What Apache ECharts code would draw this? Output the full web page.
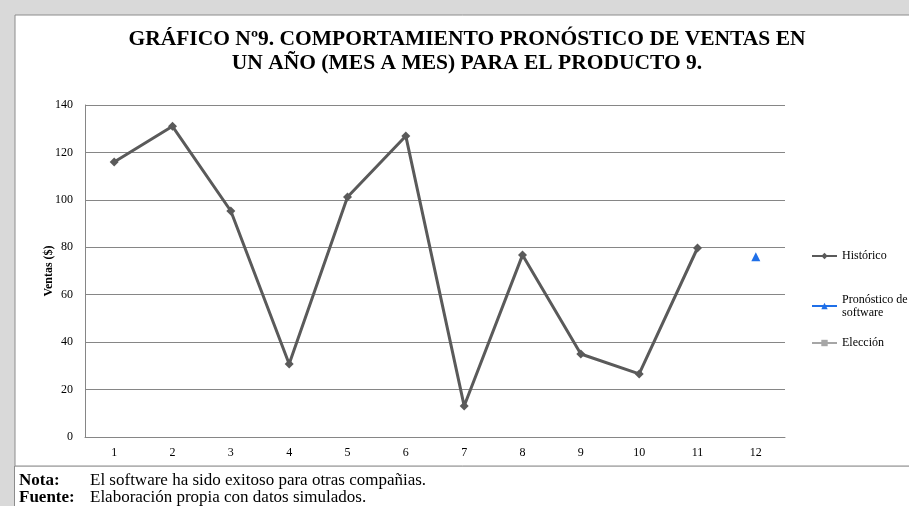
<!DOCTYPE html>
<html>
<head>
<meta charset="utf-8">
<script src="https://cdn.jsdelivr.net/npm/echarts@6/dist/echarts.min.js"></script>
<style>
  html, body { margin: 0; padding: 0; background: #ffffff; }
  #chart { width: 909px; height: 506px; }
</style>
</head>
<body>
<div id="chart"></div>
<script>
// Months of the year
var months = ['1', '2', '3', '4', '5', '6', '7', '8', '9', '10', '11', '12'];
// Historical monthly sales (months 1-11)
var historico = [116, 131, 95.3, 30.8, 101.2, 126.9, 13.1, 76.7, 35, 26.6, 79.7, null];
// Software forecast for month 12
var pronostico = [null, null, null, null, null, null, null, null, null, null, null, 76];
// Chosen value (no data yet)
var eleccion = [null, null, null, null, null, null, null, null, null, null, null, null];
// Value axis ticks
var yMin = 0, yMax = 140, yStep = 20;

var serif = '"Liberation Serif", "Times New Roman", serif';

var chart = echarts.init(document.getElementById('chart'));

var option = {
  animation: false,
  backgroundColor: '#d9d9d9',
  textStyle: { fontFamily: serif },
  graphic: [
    { type: 'rect', z: -10, silent: true,
      shape: { x: 15, y: 15, width: 900, height: 451 },
      style: { fill: '#ffffff', stroke: '#8c8c8c', lineWidth: 1 } },
    { type: 'rect', z: -10, silent: true,
      shape: { x: 15, y: 467, width: 900, height: 40 },
      style: { fill: '#ffffff' } },
    { type: 'line', z: -9, silent: true,
      shape: { x1: 14.5, y1: 466, x2: 14.5, y2: 506 },
      style: { stroke: '#8c8c8c', lineWidth: 1 } },
    { type: 'text', left: 19, top: 472,
      style: { text: 'Nota:', font: 'bold 17px ' + serif, fill: '#000' } },
    { type: 'text', left: 90, top: 472,
      style: { text: 'El software ha sido exitoso para otras compañias.', font: '17px ' + serif, fill: '#000' } },
    { type: 'text', left: 19, top: 489,
      style: { text: 'Fuente:', font: 'bold 17px ' + serif, fill: '#000' } },
    { type: 'text', left: 90, top: 489,
      style: { text: 'Elaboración propia con datos simulados.', font: '17px ' + serif, fill: '#000' } }
  ],
  title: {
    text: 'GRÁFICO Nº9. COMPORTAMIENTO PRONÓSTICO DE VENTAS EN\nUN AÑO (MES A MES) PARA EL PRODUCTO 9.',
    left: 462,
    top: 22,
    textAlign: 'center',
    textStyle: {
      fontFamily: serif,
      fontWeight: 'bold',
      fontSize: 21.5,
      lineHeight: 24,
      color: '#000'
    }
  },
  legend: [
    { data: ['Histórico'], orient: 'vertical', left: 806, top: 245,
      itemWidth: 25, itemHeight: 8,
      textStyle: { fontFamily: serif, fontSize: 12, color: '#000' } },
    { data: ['Pronóstico de software'], orient: 'vertical', left: 806, top: 288,
      itemWidth: 25, itemHeight: 8,
      formatter: function () { return 'Pronóstico de\nsoftware'; },
      textStyle: { fontFamily: serif, fontSize: 12, color: '#000', lineHeight: 13 } },
    { data: ['Elección'], orient: 'vertical', left: 806, top: 332,
      itemWidth: 25, itemHeight: 8,
      textStyle: { fontFamily: serif, fontSize: 12, color: '#000' } }
  ],
  grid: { left: 85, right: 124, top: 105, bottom: 69 },
  xAxis: {
    type: 'category',
    data: months,
    boundaryGap: true,
    axisLine: { show: true, lineStyle: { color: '#868686', width: 1 } },
    axisTick: { show: false },
    axisLabel: { fontFamily: serif, fontSize: 12, color: '#000', margin: 10 }
  },
  yAxis: {
    type: 'value',
    min: yMin, max: yMax, interval: yStep,
    name: 'Ventas ($)',
    nameLocation: 'middle',
    nameGap: 30,
    nameMoveOverlap: false,
    nameTextStyle: { fontFamily: serif, fontSize: 12, fontWeight: 'bold', color: '#000' },
    axisLine: { show: true, lineStyle: { color: '#868686', width: 1 } },
    axisTick: { show: false },
    splitLine: { lineStyle: { color: '#868686', width: 1 } },
    axisLabel: { fontFamily: serif, fontSize: 12, color: '#000', margin: 12 }
  },
  series: [
    { name: 'Histórico', type: 'line', data: historico,
      symbol: 'diamond', symbolSize: 9, showAllSymbol: true,
      lineStyle: { color: '#5a5a5a', width: 3 },
      itemStyle: { color: '#5a5a5a' } },
    { name: 'Pronóstico de software', type: 'line', data: pronostico,
      symbol: 'triangle', symbolSize: 9, showAllSymbol: true,
      lineStyle: { color: '#1f6fe8', width: 3 },
      itemStyle: { color: '#1f6fe8' } },
    { name: 'Elección', type: 'line', data: eleccion,
      symbol: 'rect', symbolSize: 7,
      lineStyle: { color: '#a6a6a6', width: 3 },
      itemStyle: { color: '#a6a6a6' } }
  ]
};

chart.setOption(option);
</script>
</body>
</html>
